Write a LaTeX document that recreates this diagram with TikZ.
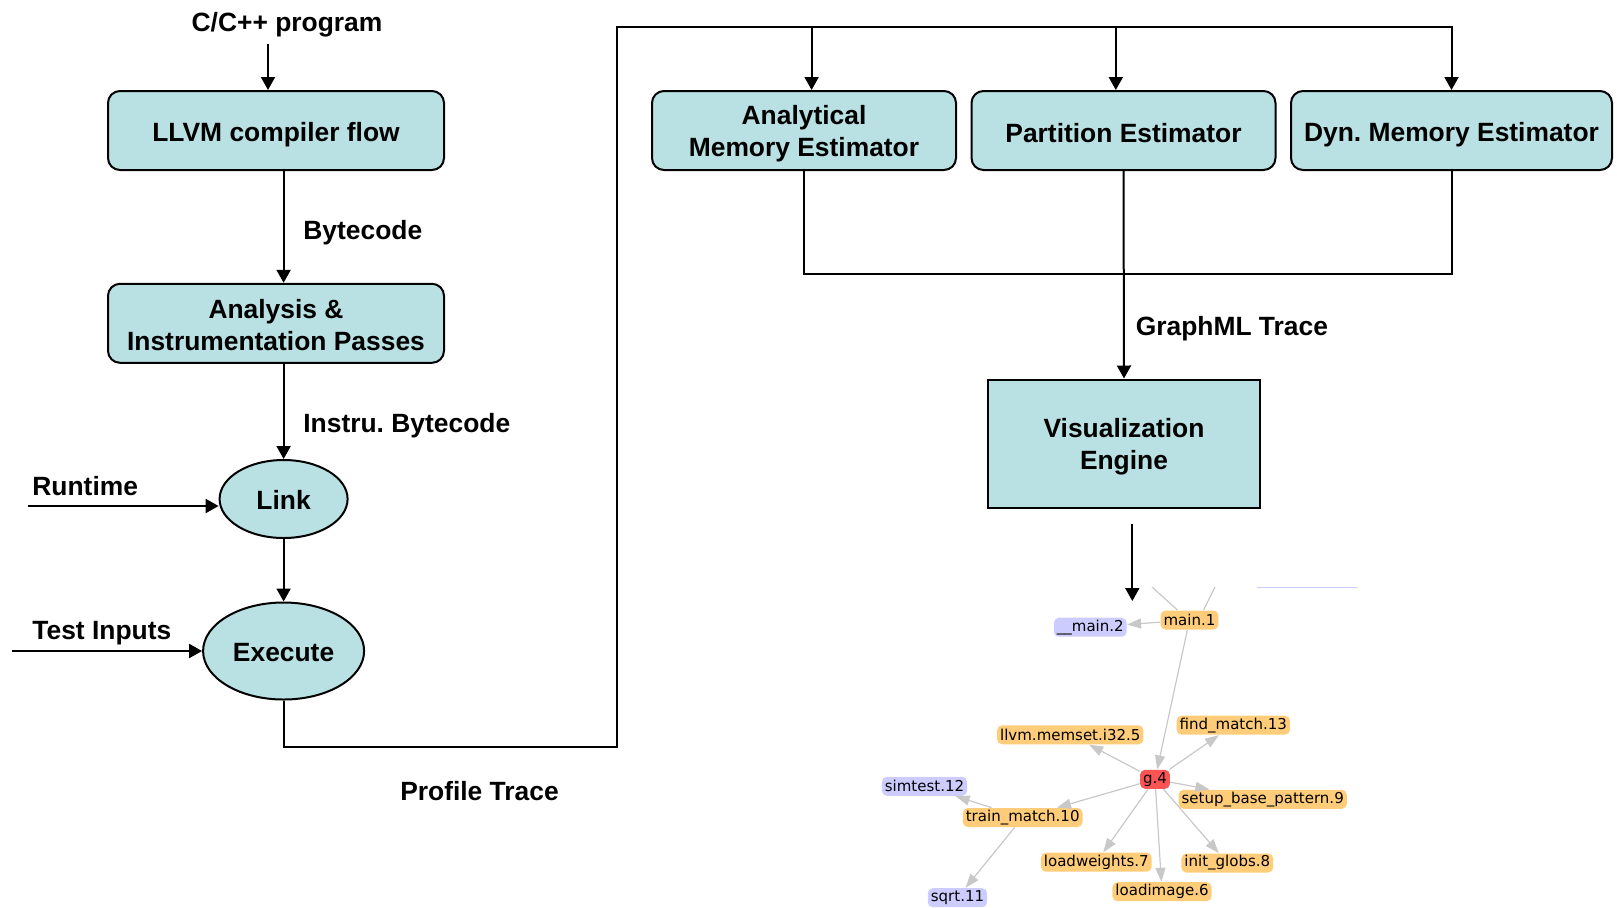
\documentclass[tikz,border=0pt]{standalone}
\usepackage{fontspec}
\setmainfont{Liberation Sans}
\newfontfamily\gfont{DejaVu Sans}
\usetikzlibrary{shapes.geometric,arrows.meta}
\definecolor{boxfill}{RGB}{185,224,226}
\definecolor{gorange}{RGB}{255,204,122}
\definecolor{glav}{RGB}{204,204,255}
\definecolor{gred}{RGB}{252,84,84}
\definecolor{gedgec}{RGB}{200,200,200}
\newcommand{\lowr}[2]{\raisebox{-#1}[\height][\depth]{#2}}
\begin{document}
\frenchspacing
\begin{tikzpicture}[x=0.5pt,y=-0.5pt,
  every node/.style={font=\fontsize{13.2pt}{16pt}\selectfont\bfseries},
  rbox/.style={draw, line width=1pt, fill=boxfill, rounded corners=6pt, align=center, inner sep=0pt, minimum height=39.5pt},
  sbox/.style={draw, line width=1pt, fill=boxfill, align=center, inner sep=0pt},
  ell/.style={draw, line width=1pt, fill=boxfill, ellipse, inner sep=0pt},
  lbl/.style={inner sep=0pt},
  arr/.style={line width=1pt, -{Triangle[length=6.5pt,width=7pt]}},
  plain/.style={line width=1pt},
  gnode/.style={rounded corners=2.5pt, inner xsep=1.5pt, inner ysep=0pt, minimum height=9.5pt, font=\gfont\fontsize{7.5pt}{9pt}\selectfont, text=black},
  gedge/.style={draw=gedgec, line width=0.6pt, -{Triangle[length=7pt,width=5pt]}},
  gline/.style={draw=gedgec, line width=0.6pt}
]
\useasboundingbox (0,0) rectangle (1617,907);

% left column
\node[lbl] (cprog) at (287,25) {C/C++ program};
\node[rbox, minimum width=168pt] (llvm) at (276,130.5) {\lowr{2pt}{LLVM compiler flow}};
\node[rbox, minimum width=168pt] (ana) at (276,323.3) {\lowr{0.8pt}{Analysis \&}\\\lowr{0.8pt}{Instrumentation Passes}};
\node[ell, minimum width=64pt, minimum height=39pt] (link) at (283.6,499) {\lowr{0.5pt}{Link}};
\node[ell, minimum width=80.5pt, minimum height=48.5pt] (exec) at (283.6,651) {\lowr{1pt}{Execute}};

\node[lbl, anchor=west] (bytecode) at (303,233) {Bytecode};
\node[lbl, anchor=west] (instru) at (303,426) {Instru. Bytecode};
\node[lbl, anchor=west] (runtime) at (32,486.5) {Runtime};
\node[lbl, anchor=west] (testin) at (32,633) {Test Inputs};
\node[lbl] (proftrace) at (479.5,791) {Profile Trace};

\coordinate (cin) at (268,44);
\draw[arr] (cin) -- (cin |- llvm.north);
\draw[arr] (llvm.south -| link) -- (ana.north -| link);
\draw[arr] (ana.south -| link) -- (link.north);
\coordinate (rtstart) at (28,506);
\draw[arr] (rtstart) -- (rtstart -| link.west);
\draw[arr] (link.south) -- (exec.north);
\coordinate (tistart) at (12.4,651);
\draw[arr] (tistart) -- (exec.west);

% estimators
\node[rbox, minimum width=152pt] (anal) at (804,130.5) {\lowr{1.5pt}{Analytical}\\\lowr{1.5pt}{Memory Estimator}};
\node[rbox, minimum width=152pt] (part) at (1123.5,130.5) {\lowr{1.2pt}{Partition Estimator}};
\node[rbox, minimum width=160.5pt] (dyn) at (1451.5,130.5) {\lowr{2pt}{Dyn. Memory Estimator}};
\node[sbox, minimum width=136pt, minimum height=64pt] (vis) at (1124,443.5) {\lowr{1.5pt}{Visualization}\\\lowr{1.5pt}{Engine}};
\node[lbl, anchor=west] (graphml) at (1135.4,329) {GraphML Trace};

\coordinate (p1) at (616.7,746.6);
\coordinate (ptop) at (616.7,26.8);
\draw[arr] (exec.south) |- (p1) |- (dyn.north |- ptop) -- (dyn.north);
\coordinate (d1) at (811.6,26.8);
\draw[arr] (d1) -- (d1 |- anal.north);
\coordinate (d2) at (1115.8,26.8);
\draw[arr] (d2) -- (d2 |- part.north);

\coordinate (coll) at (0,274.3);
\draw[plain] (anal.south) |- (dyn.south |- coll) -- (dyn.south);
\draw[arr] (part.south) -- (vis.north);

\coordinate (vs) at (1132.3,524);
\coordinate (ve) at (1132.3,601);
\draw[arr] (vs) -- (ve);

% graph
\node[gnode, fill=gorange] (main1) at (1189.5,620) {main.1};
\node[gnode, fill=glav] (main2) at (1090.3,627.2) {\_\_main.2};
\node[gnode, fill=gred] (g4) at (1155,779.3) {g.4};
\node[gnode, fill=gorange] (memset) at (1070.3,734.8) {llvm.memset.i32.5};
\node[gnode, fill=gorange] (findm) at (1233.3,725.2) {find\_match.13};
\node[gnode, fill=gorange] (setup) at (1262.7,799.3) {setup\_base\_pattern.9};
\node[gnode, fill=gorange] (train) at (1022.7,817.5) {train\_match.10};
\node[gnode, fill=glav] (simtest) at (924.5,786.3) {simtest.12};
\node[gnode, fill=gorange] (loadw) at (1096.3,862.2) {loadweights.7};
\node[gnode, fill=gorange] (loadi) at (1162,891.7) {loadimage.6};
\node[gnode, fill=gorange] (initg) at (1227.3,863) {init\_globs.8};
\node[gnode, fill=glav] (sqrtn) at (957.5,897.7) {sqrt.11};

\coordinate (c1) at (1152,587);
\coordinate (c2) at (1215,587);
\draw[gline] (c1) -- ([xshift=-6pt]main1.north);
\draw[gline] (c2) -- ([xshift=7pt]main1.north);
\coordinate (l1) at (1256.7,587.3);
\coordinate (l2) at (1356.7,587.3);
\draw[draw=glav, line width=0.6pt] (l1) -- (l2);

\draw[gedge] (main1) -- (main2);
\draw[gedge] (main1) -- (g4);
\draw[gedge] (g4) -- (memset);
\draw[gedge] (g4) -- (findm);
\draw[gedge] (g4) -- (setup);
\draw[gedge] (g4) -- (train);
\draw[gedge] (g4) -- (loadw);
\draw[gedge] (g4) -- (loadi);
\draw[gedge] (g4) -- (initg);
\draw[gedge] (train) -- (simtest);
\draw[gedge] (train) -- (sqrtn);
\end{tikzpicture}
\end{document}
